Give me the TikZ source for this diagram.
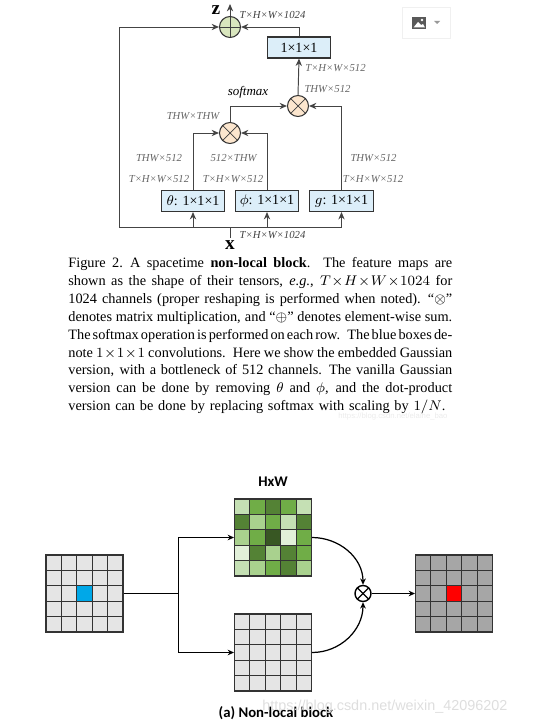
\documentclass[tikz,border=0pt]{standalone}
\usepackage{fontspec}
\setmainfont{Liberation Serif}
\newfontfamily\slidefont{Carlito}
\newfontfamily\markfont{Liberation Sans}
\usetikzlibrary{arrows.meta}
\definecolor{lineink}{HTML}{444444}
\definecolor{dimink}{HTML}{666666}
\definecolor{convblue}{HTML}{DCEEF9}
\definecolor{sumgreen}{HTML}{D9E6BE}
\definecolor{mulpeach}{HTML}{FCE6CE}
\definecolor{cellC}{HTML}{C5E0B4}
\definecolor{cellM}{HTML}{70AD47}
\definecolor{cellD}{HTML}{548235}
\definecolor{cellA}{HTML}{A9D18E}
\definecolor{cellK}{HTML}{385723}
\definecolor{cellE}{HTML}{E2F0D9}
\definecolor{centreblue}{HTML}{00A8E8}
\tikzset{
  conn/.style={draw=lineink,line width=0.55pt,-{Stealth[length=4.2pt,width=3.6pt]}},
  wire/.style={draw=lineink,line width=0.55pt},
  convbox/.style={draw=black!80,line width=0.65pt,fill=convblue,minimum width=1.27cm,minimum height=0.42cm,inner sep=0pt,font=\fontsize{8}{9}\selectfont},
  opcircle/.style={circle,draw=black!80,line width=0.6pt,minimum size=0.42cm,inner sep=0pt},
  sumop/.style={opcircle,fill=sumgreen,path picture={
    \draw[black!75,line width=0.4pt] (path picture bounding box.north) -- (path picture bounding box.south);
    \draw[black!75,line width=0.4pt] (path picture bounding box.west) -- (path picture bounding box.east);}},
  mulop/.style={opcircle,fill=mulpeach,path picture={
    \draw[black!75,line width=0.4pt] (path picture bounding box.north west) -- (path picture bounding box.south east);
    \draw[black!75,line width=0.4pt] (path picture bounding box.north east) -- (path picture bounding box.south west);}},
  shapelabel/.style={text=dimink,inner sep=0pt,font=\fontsize{6.1}{7}\selectfont\itshape},
  gridbox/.style={draw=black!80,line width=0.6pt,minimum size=1.54cm,inner sep=0pt},
  gridline/.style={draw=black!80,line width=0.6pt},
  slidearrow/.style={draw=black,line width=0.7pt,-{Stealth[length=3.6pt,width=3.2pt]}},
  slidetitle/.style={inner sep=0pt,font=\slidefont\bfseries\fontsize{8.4}{10}\selectfont}
}
% inner rules of a 5x5 grid, centre given in pixels
\newcommand{\gridrules}[2]{
  \foreach \k in {-23.1,-7.7,7.7,23.1} {
    \draw[gridline] (#1+\k,#2-38.5) -- (#1+\k,#2+38.5);
    \draw[gridline] (#1-38.5,#2+\k) -- (#1+38.5,#2+\k);
  }
}
% one caption line, set to the full width
\newcommand{\capline}[1]{\hbox to \hsize{\spaceskip=0.12em plus 1fil\relax #1}}
\begin{document}
\begin{tikzpicture}[x=0.02cm,y=-0.02cm]
    \useasboundingbox (0,0) rectangle (540,726);
    % upper block
    \node[sumop] (sumtop) at (230,27) {};
    \node[mulop] (multop) at (298,106) {};
    \node[mulop] (mulleft) at (230,133) {};
    \node[convbox] (convtop) at (299,47.5) {1×1×1};
    \node[convbox] (theta) at (193,201) {$\theta$: 1×1×1};
    \node[convbox] (phi) at (267,201) {$\phi$: 1×1×1};
    \node[convbox] (gbox) at (341.5,201) {$g$: 1×1×1};
    \coordinate (zout) at (230,4);
    \coordinate (xin) at (230,238);
    \coordinate (xsplit) at (230,227);
    \coordinate (skipcorner) at (119,227);
    \draw[conn] (sumtop.north) -- (zout);
    \draw[conn] (convtop.north) |- (sumtop.east);
    \draw[conn] (multop.north) -- (convtop.south);
    \draw[conn] (mulleft.north) |- (multop.west);
    \draw[conn] (gbox.north) |- (multop.east);
    \draw[conn] (theta.north) |- (mulleft.west);
    \draw[conn] (phi.north) |- (mulleft.east);
    \draw[wire] (xin) -- (xsplit);
    \draw[conn] (xsplit) -| (theta.south);
    \draw[conn] (xsplit) -| (phi.south);
    \draw[conn] (xsplit) -| (gbox.south);
    \draw[conn] (xsplit) -- (skipcorner) |- (sumtop.west);
    \node[inner sep=0pt,font=\fontsize{11}{12}\selectfont\bfseries] (zlabel) at (216,10) {z};
    \node[inner sep=0pt,font=\fontsize{11}{12}\selectfont\bfseries] (xlabel) at (230,245) {x};
    \node[inner sep=0pt,font=\fontsize{7.4}{8}\selectfont\itshape] (softmaxlabel) at (248,92) {softmax};
    \node[shapelabel,text=black!75] (dimtop) at (272.5,15) {T×H×W×1024};
    \node[shapelabel] (dimconv) at (335.5,68) {T×H×W×512};
    \node[shapelabel] (dimmul) at (327.5,89) {THW×512};
    \node[shapelabel] (dimaff) at (193,116) {THW×THW};
    \node[shapelabel] (dimthetaa) at (159,158) {THW×512};
    \node[shapelabel] (dimphia) at (233.5,158) {512×THW};
    \node[shapelabel] (dimga) at (373.5,158) {THW×512};
    \node[shapelabel] (dimthetab) at (159,179) {T×H×W×512};
    \node[shapelabel] (dimphib) at (233,179) {T×H×W×512};
    \node[shapelabel] (dimgb) at (373,179) {T×H×W×512};
    \node[shapelabel,text=black!75] (diminput) at (272.5,235) {T×H×W×1024};
    % image button
    \node[draw=black!6,fill=white,minimum width=0.96cm,minimum height=0.62cm,inner sep=0pt] (imgbutton) at (426,22.5) {};
    \fill[black!65] (412,17) rectangle (426,29);
    \fill[white] (422,20) circle (1.3);
    \fill[white] (413.5,27.5) -- (418,22) -- (421,25) -- (423,24) -- (425,27.5) -- cycle;
    \fill[black!40] (434,21) -- (440,21) -- (437,24) -- cycle;
    % caption
    \node[anchor=north west,inner sep=0pt,text width=7.68cm,font=\fontsize{8.15}{10.15}\selectfont] (caption) at (68,257.5) {%
      \capline{Figure 2. A spacetime \textbf{non-local block}.\ \ The feature maps are}
      \capline{shown as the shape of their tensors, \textit{e.g.}, $T\!\times\! H\!\times\! W\!\times\! 1024$ for}
      \capline{1024 channels (proper reshaping is performed when noted). ``$\otimes$''}
      \capline{denotes matrix multiplication, and ``$\oplus$'' denotes element-wise sum.}
      \capline{The softmax operation is performed on each row. The blue boxes de-}
      \capline{note $1\!\times\!1\!\times\!1$ convolutions. Here we show the embedded Gaussian}
      \capline{version, with a bottleneck of 512 channels. The vanilla Gaussian}
      \capline{version can be done by removing $\theta$ and $\phi$, and the dot-product}
      \hbox{version can be done by replacing softmax with scaling by $1/N$.}};
    \node[anchor=west,inner sep=0pt,text=black!8,font=\markfont\fontsize{4.4}{5}\selectfont] (capmark) at (338,416) {https://blog.csdn.net/elaine\_bao};
    % lower block
    \node[gridbox,fill=black!10] (inputgrid) at (84.5,593.5) {};
    \fill[centreblue] (76.8,585.8) rectangle (92.2,601.2);
    \gridrules{84.5}{593.5}
    \node[gridbox] (greengrid) at (273,537.5) {};
    \foreach \shade [count=\n from 0] in {C,M,D,M,C,D,A,M,C,D,A,M,K,E,M,E,D,A,D,M,C,A,M,D,A} {
      \pgfmathtruncatemacro{\col}{mod(\n,5)}
      \pgfmathtruncatemacro{\row}{div(\n,5)}
      \fill[cell\shade] (234.5+\col*15.4,499+\row*15.4) rectangle ++(15.4,15.4);
    }
    \gridrules{273}{537.5}
    \node[gridbox] (greenframe) at (273,537.5) {};
    \node[gridbox,fill=black!10] (graygrid) at (273,652.5) {};
    \gridrules{273}{652.5}
    \node[gridbox,fill=black!35] (outgrid) at (454,593.5) {};
    \fill[red] (446.3,585.8) rectangle (461.7,601.2);
    \gridrules{454}{593.5}
    \node[circle,draw=black,line width=0.8pt,fill=white,minimum size=0.32cm,inner sep=0pt,path picture={
      \draw[black,line width=0.7pt] (path picture bounding box.north west) -- (path picture bounding box.south east);
      \draw[black,line width=0.7pt] (path picture bounding box.north east) -- (path picture bounding box.south west);}] (mulbottom) at (363,593.5) {};
    \coordinate (branch) at (178.5,593.5);
    \draw[draw=black,line width=0.9pt] (inputgrid.east) -- (branch);
    \draw[slidearrow] (branch) |- (greengrid.west);
    \draw[slidearrow] (branch) |- (graygrid.west);
    \draw[slidearrow] (greengrid.east) to[out=0,in=90] (mulbottom.north);
    \draw[slidearrow] (graygrid.east) to[out=0,in=-90] (mulbottom.south);
    \draw[slidearrow] (mulbottom.east) -- (outgrid.west);
    \node[slidetitle] (gridtitle) at (273,482) {HxW};
    \node[slidetitle] (blocktitle) at (276,713) {(a) Non-local block};
    \node[anchor=west,inner sep=0pt,text=black!13,font=\markfont\fontsize{8.2}{10}\selectfont] (pagemark) at (262,707) {https://blog.csdn.net/weixin\_42096202};
\end{tikzpicture}
\end{document}
